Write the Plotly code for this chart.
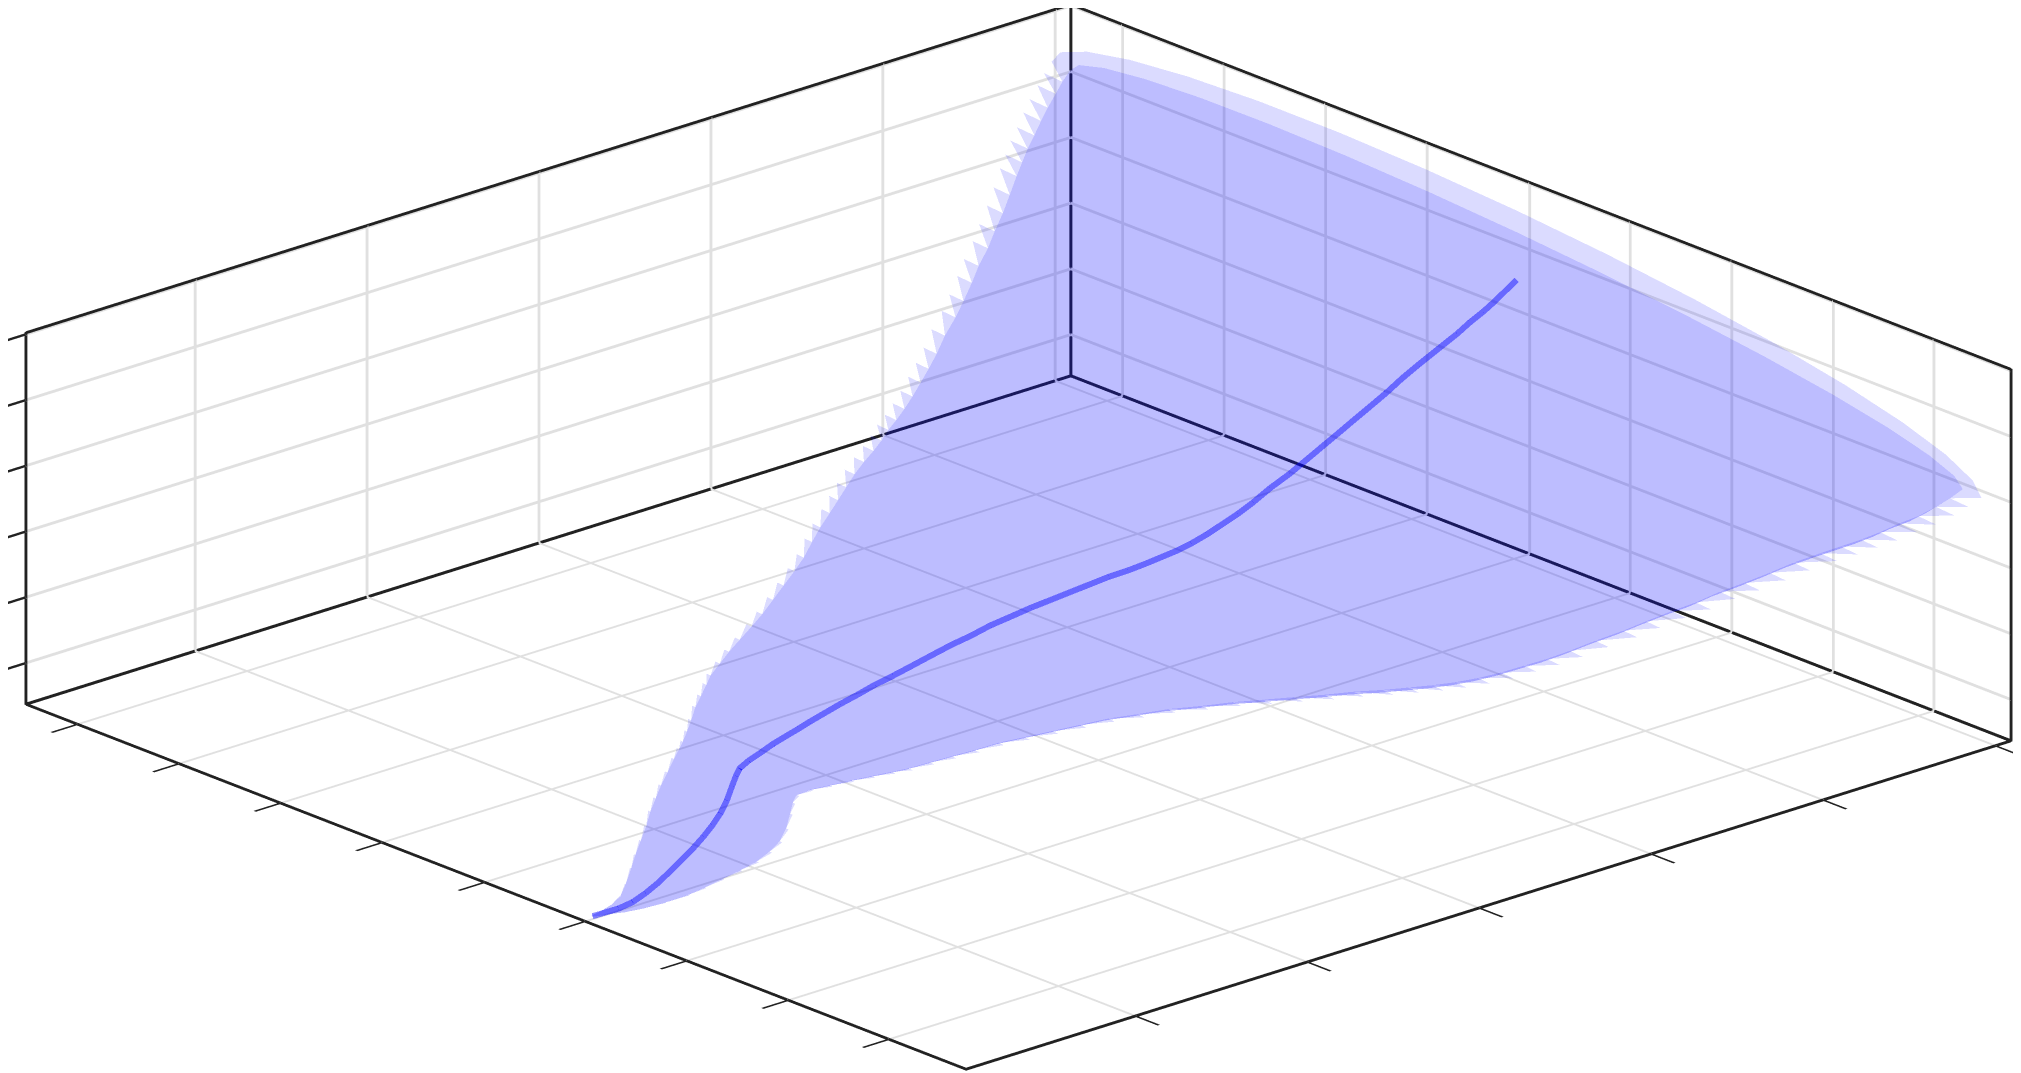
import math
import plotly.graph_objects as go

cx = [0.6027,0.6012,0.5997,0.5981,0.5966,0.5949,0.5937,0.5924,0.5910,0.5898,0.5888,0.5879,0.5871,0.5865,0.5861,0.5856,
      0.5846,0.5832,0.5817,0.5802,0.5787,0.5775,0.5757,0.5739,0.5719,0.5698,0.5677,0.5655,0.5632,0.5610,0.5587,0.5565,
      0.5541,0.5516,0.5494,0.5471,0.5449,0.5426,0.5404,0.5384,0.5366,0.5348,0.5330,0.5312,0.5294,0.5276,0.5258,0.5239,
      0.5216,0.5198,0.5179,0.5161,0.5141,0.5123,0.5103,0.5085,0.5066,0.5051,0.5036,0.5021,0.5006,0.4991,0.4976,0.4964,0.4952]
cy = [0.0000,0.0137,0.0274,0.0425,0.0562,0.0712,0.0822,0.0945,0.1069,0.1178,0.1274,0.1356,0.1425,0.1480,0.1521,0.1562,
      0.1658,0.1781,0.1918,0.2055,0.2192,0.2302,0.2466,0.2630,0.2809,0.3000,0.3192,0.3398,0.3603,0.3809,0.4014,0.4220,
      0.4439,0.4658,0.4864,0.5069,0.5275,0.5480,0.5686,0.5864,0.6028,0.6192,0.6357,0.6521,0.6686,0.6850,0.7014,0.7193,
      0.7398,0.7562,0.7741,0.7905,0.8083,0.8247,0.8426,0.8590,0.8768,0.8905,0.9042,0.9179,0.9316,0.9453,0.9590,0.9700,0.9809]
cz = [0.0215,0.0182,0.0150,0.0173,0.0279,0.0442,0.0610,0.0800,0.0989,0.1193,0.1409,0.1640,0.1919,0.2246,0.2483,0.2650,
      0.2763,0.2848,0.2955,0.3027,0.3098,0.3163,0.3242,0.3321,0.3387,0.3473,0.3525,0.3598,0.3671,0.3744,0.3782,0.3855,
      0.3879,0.3904,0.3907,0.3911,0.3914,0.3917,0.3886,0.3882,0.3892,0.3902,0.3946,0.4025,0.4139,0.4253,0.4402,0.4606,
      0.4783,0.4966,0.5171,0.5354,0.5558,0.5742,0.5946,0.6164,0.6368,0.6509,0.6651,0.6792,0.6968,0.7109,0.7285,0.7453,0.7622]
hw = [0.0014,0.0041,0.0082,0.0137,0.0219,0.0315,0.0384,0.0452,0.0521,0.0589,0.0630,0.0658,0.0658,0.0644,0.0630,0.0630,
      0.0685,0.0767,0.0863,0.0945,0.1027,0.1096,0.1164,0.1233,0.1301,0.1370,0.1452,0.1548,0.1644,0.1740,0.1849,0.1973,
      0.2110,0.2233,0.2356,0.2479,0.2603,0.2712,0.2822,0.2918,0.3014,0.3096,0.3178,0.3260,0.3342,0.3425,0.3507,0.3603,
      0.3699,0.3781,0.3877,0.3973,0.4055,0.4151,0.4247,0.4342,0.4452,0.4534,0.4616,0.4685,0.4753,0.4822,0.4877,0.4918,0.4945]

x_ticks=[0.055,0.163,0.271,0.379,0.488,0.595,0.703,0.811,0.918]
y_ticks=[0.162,0.3265,0.491,0.6555,0.82,0.985]
z_ticks=[0.111,0.288,0.465,0.642,0.819,0.996]
edge_x=[0,0,1,None,0,0]
edge_y=[0,1,1,None,1,1]
edge_z=[0,0,0,None,0,1]

fig=go.Figure()
N=32
n=len(cx)
X=[];Y=[];Z=[];I=[];J=[];K=[]
def add(x,y,z):
    X.append(x);Y.append(y);Z.append(z);return len(X)-1
def tri(a,b,c):
    I.append(a);J.append(b);K.append(c)
for x,y,z,h in zip(cx,cy,cz,hw):
    hh=0.96*h
    for q in range(N):
        t=2*math.pi*q/N
        add(x+hh*math.cos(t),y,z-0.205*hh*math.cos(t)+0.27*hh*math.sin(t))
for r in range(n-1):
    for q in range(N):
        a=r*N+q;b=r*N+(q+1)%N;c=a+N;d=b+N
        tri(a,b,d);tri(a,d,c)
b0=add(cx[-1],cy[-1],cz[-1])
for q in range(N):
    tri(b0,(n-1)*N+q,(n-1)*N+(q+1)%N)
for r in range(1,n):
    h=hw[r]
    tip=add(cx[r]+h,cy[r],cz[r]-0.205*h); tri(tip,(r-1)*N,r*N)
    tip=add(cx[r]-h,cy[r],cz[r]+0.205*h); tri(tip,(r-1)*N+N//2,r*N+N//2)
h=hw[-1];prev=None
for q in range(N//2+1):
    t=2*math.pi*q/N
    o=add(cx[-1]+h*math.cos(t),cy[-1],cz[-1]-0.205*h*math.cos(t)+0.377*h*math.sin(t))
    inner=(n-1)*N+q%N
    if prev is not None:
        tri(prev[0],prev[1],o);tri(prev[1],inner,o)
    prev=(o,inner)

fig.add_trace(go.Mesh3d(x=X,y=Y,z=Z,i=I,j=J,k=K,
        color="rgb(0,0,255)",opacity=0.14,flatshading=True,
        lighting=dict(ambient=1,diffuse=0,specular=0,roughness=1,fresnel=0),hoverinfo="skip"))
fig.add_trace(go.Scatter3d(x=edge_x,y=edge_y,z=edge_z,mode="lines",line=dict(color="#222",width=6),hoverinfo="skip"))
fig.add_trace(go.Scatter3d(x=cx,y=cy,z=cz,mode="lines",line=dict(color="rgb(0,0,255)",width=12),opacity=0.45,hoverinfo="skip"))

def ax(t):
    return dict(range=[0,1],tickvals=t,ticktext=[""]*len(t),showticklabels=False,title="",ticks="outside",ticklen=35,tickwidth=5,tickcolor="#222",
        showline=True,linecolor="#222",linewidth=6,mirror=True,showgrid=True,gridcolor="rgba(0,0,0,0.12)",gridwidth=6,
        showbackground=False,zeroline=False,showspikes=False)
S=2.62
E=4.0
fig.update_layout(width=2021,height=1073,margin=dict(l=0,r=0,t=0,b=0),paper_bgcolor="white",showlegend=False,
    scene=dict(domain=dict(x=[0,1],y=[0,1]),xaxis=ax(x_ticks),yaxis=ax(y_ticks),zaxis=ax(z_ticks),
        aspectmode="manual",aspectratio=dict(x=S,y=S,z=0.282*S),
        camera=dict(eye=dict(x=0.698*E,y=-0.628*E,z=0.3462*E),center=dict(x=0,y=0,z=-0.0153),up=dict(x=0,y=0,z=1),projection=dict(type="orthographic"))))
fig.write_html("out.html")
